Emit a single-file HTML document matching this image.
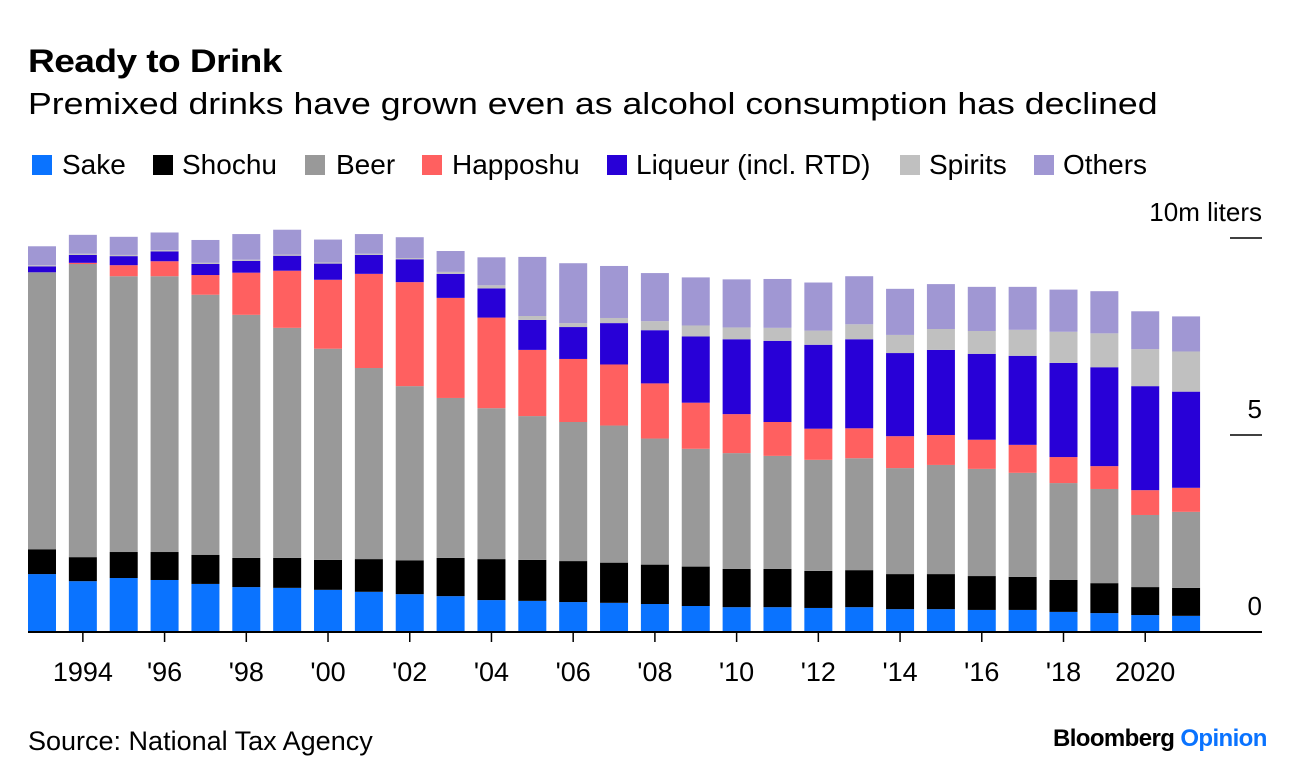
<!DOCTYPE html>
<html><head><meta charset="utf-8">
<style>
body{margin:0;background:#fff;font-family:"Liberation Sans",Arial,sans-serif;color:#000}
#root{position:relative;width:1296px;height:782px;overflow:hidden}
.t{position:absolute;white-space:nowrap;transform-origin:0 0}
.lg{position:absolute;top:152px;height:26px;font-size:28px;line-height:26px;white-space:nowrap}
.sq{position:absolute;top:155px;width:20px;height:20px}
</style></head>
<body><div id="root">
<div class="t" style="left:28px;top:43px;font-size:32px;font-weight:bold;letter-spacing:-0.5px;transform:scaleX(1.16)">Ready to Drink</div>
<div class="t" style="left:28px;top:86px;font-size:31px;transform:scaleX(1.15)">Premixed drinks have grown even as alcohol consumption has declined</div>
<div class="sq" style="left:32px;background:#0a73ff"></div>
<div class="lg" style="left:62px">Sake</div>
<div class="sq" style="left:153px;background:#000"></div>
<div class="lg" style="left:182px">Shochu</div>
<div class="sq" style="left:305px;background:#999"></div>
<div class="lg" style="left:336px">Beer</div>
<div class="sq" style="left:422px;background:#ff6060"></div>
<div class="lg" style="left:452px">Happoshu</div>
<div class="sq" style="left:607px;background:#2800d7"></div>
<div class="lg" style="left:636px">Liqueur (incl. RTD)</div>
<div class="sq" style="left:900px;background:#c0c0c0"></div>
<div class="lg" style="left:929px">Spirits</div>
<div class="sq" style="left:1034px;background:#a097d3"></div>
<div class="lg" style="left:1063px">Others</div>
<svg id="chart" width="1296" height="782" style="position:absolute;left:0;top:0"></svg>
<div class="t" style="left:28px;top:726px;font-size:27px">Source: National Tax Agency</div>
<div class="t" style="left:1053px;top:725px;font-size:24px;font-weight:bold;letter-spacing:-0.6px">Bloomberg <span style="color:#0a73ff">Opinion</span></div>
</div>
<script>
const years=[1993,1994,1995,1996,1997,1998,1999,2000,2001,2002,2003,2004,2005,2006,2007,2008,2009,2010,2011,2012,2013,2014,2015,2016,2017,2018,2019,2020,2021];
const sake=[1.47,1.29,1.37,1.32,1.22,1.14,1.12,1.07,1.02,0.96,0.91,0.81,0.79,0.76,0.74,0.71,0.66,0.63,0.63,0.61,0.63,0.58,0.58,0.56,0.56,0.51,0.48,0.43,0.41];
const shochu=[0.63,0.61,0.66,0.71,0.74,0.74,0.76,0.76,0.83,0.86,0.97,1.04,1.04,1.04,1.02,1.0,1.0,0.97,0.97,0.94,0.94,0.89,0.89,0.86,0.84,0.81,0.76,0.71,0.71];
const beer=[7.03,7.44,7.0,7.0,6.6,6.17,5.84,5.36,4.85,4.42,4.06,3.83,3.65,3.53,3.48,3.2,2.99,2.94,2.87,2.82,2.84,2.69,2.77,2.72,2.64,2.46,2.39,1.83,1.93];
const happoshu=[0,0.03,0.28,0.38,0.5,1.07,1.45,1.75,2.39,2.64,2.54,2.3,1.68,1.6,1.55,1.4,1.17,0.99,0.86,0.79,0.76,0.81,0.76,0.74,0.71,0.66,0.58,0.63,0.61];
const liqueur=[0.15,0.2,0.23,0.25,0.28,0.3,0.38,0.41,0.48,0.58,0.61,0.74,0.76,0.81,1.05,1.35,1.68,1.9,2.06,2.13,2.26,2.11,2.16,2.18,2.26,2.39,2.51,2.64,2.44];
const spirits=[0.03,0.03,0.03,0.03,0.03,0.03,0.03,0.03,0.03,0.03,0.05,0.08,0.1,0.1,0.13,0.23,0.28,0.3,0.33,0.36,0.38,0.46,0.53,0.58,0.66,0.79,0.86,0.94,1.02];
const others=[0.48,0.48,0.46,0.45,0.58,0.65,0.63,0.58,0.5,0.53,0.53,0.71,1.5,1.52,1.32,1.22,1.22,1.22,1.24,1.22,1.22,1.17,1.14,1.12,1.09,1.07,1.07,0.96,0.89];
const yTicks=[0,5,10];
const yTickLabels=["0","5","10m liters"];
const xTickYears=[1994,1996,1998,2000,2002,2004,2006,2008,2010,2012,2014,2016,2018,2020];
const xTickLabels=["1994","'96","'98","'00","'02","'04","'06","'08","'10","'12","'14","'16","'18","2020"];

const series=[[sake,"#0a73ff","sake"],[shochu,"#000000","shochu"],[beer,"#999999","beer"],[happoshu,"#ff6060","happoshu"],[liqueur,"#2800d7","liqueur"],[spirits,"#c0c0c0","spirits"],[others,"#a097d3","others"]];
const NS="http://www.w3.org/2000/svg";
const svg=document.getElementById('chart');
const y0=632, pxPer=39.4;
function yScale(v){return y0-v*pxPer;}
function xScale(yr){return 42+(yr-1993)*40.86;}
const bw=28;
function mk(tag,attrs){const e=document.createElementNS(NS,tag);for(const k in attrs)e.setAttribute(k,attrs[k]);svg.appendChild(e);return e;}
years.forEach((yr,i)=>{
  let cum=0;
  series.forEach(s=>{
    const v=s[0][i];
    if(v<=0)return;
    const r=mk('rect',{x:xScale(yr)-bw/2,y:yScale(cum+v),width:bw,height:v*pxPer,fill:s[1]});
    
    
    cum+=v;
  });
});
const ax=mk('line',{x1:28,x2:1262,y1:y0,y2:y0,stroke:'#000','stroke-width':2});


yTicks.forEach((t,i)=>{
  if(t>0){
    const l=mk('line',{x1:1230,x2:1262,y1:yScale(t),y2:yScale(t),stroke:'#000','stroke-width':1.5});
    
    
  }
  const tx=mk('text',{x:1262,y:yScale(t)-17,'text-anchor':'end','font-size':26,'font-family':'Liberation Sans, sans-serif'});
  tx.textContent=yTickLabels[i];
  
  
});
xTickYears.forEach((yr,i)=>{
  const l=mk('line',{x1:xScale(yr),x2:xScale(yr),y1:y0,y2:y0+10,stroke:'#000','stroke-width':1.5});
  
  
  const tx=mk('text',{x:xScale(yr),y:681,'text-anchor':'middle','font-size':27,'font-family':'Liberation Sans, sans-serif'});
  tx.textContent=xTickLabels[i];
  
  
});
</script>
</body></html>
